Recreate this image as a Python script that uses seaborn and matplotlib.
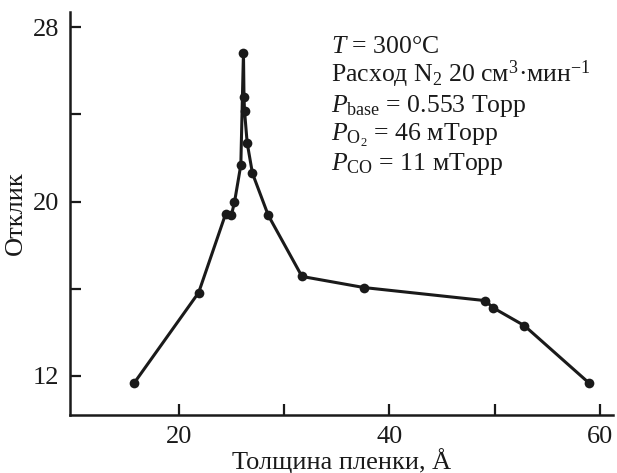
import numpy as np
import pandas as pd
import matplotlib
matplotlib.use("Agg")
import matplotlib.pyplot as plt
import seaborn as sns

# толщина пленки (Å) и отклик, в порядке соединения точек
thickness = [15.8, 21.9, 24.45, 25.0, 25.3, 25.9, 26.15, 26.2, 26.25, 26.5,
             27.0, 28.5, 31.7, 37.6, 37.6, 49.1, 49.8, 52.8, 58.9]
response = [11.68, 15.82, 19.42, 19.37, 19.97, 21.68, 26.84, 24.8, 24.17, 22.7,
            21.3, 19.37, 16.56, 15.9, 16.2, 15.45, 15.13, 14.3, 11.68]

x_ticks = [20, 40, 60]
x_minor = [30, 50]
y_ticks = [12, 20, 28]
y_minor = [16, 24]

conditions = [
    r"$T$ = 300°C",
    r"Расход N$_2$ 20 см$^3$·мин$^{-1}$",
    r"$P_{\mathrm{base}}$ = 0.553 Торр",
    r"$P_{\mathrm{O_2}}$ = 46 мТорр",
    r"$P_{\mathrm{CO}}$ = 11 мТорр",
]

sns.set_style("ticks")
plt.rcParams['font.family'] = ['Liberation Serif', 'DejaVu Serif']
plt.rcParams['mathtext.fontset'] = 'custom'
plt.rcParams['mathtext.rm'] = 'Liberation Serif'
plt.rcParams['mathtext.it'] = 'Liberation Serif:italic'
plt.rcParams['mathtext.bf'] = 'Liberation Serif:bold'

df = pd.DataFrame({'x': thickness, 'y': response})

fig = plt.figure(figsize=(6.17, 4.73), dpi=100)
ax = fig.add_axes([0.1135, 0.1226, 0.88, 0.852])

sns.lineplot(data=df, x='x', y='y', sort=False, color='#1a1a1a', linewidth=2.2,
             marker='o', markersize=7, markeredgewidth=0, ax=ax)

ax.set_xlim(9.7, 61.2)
ax.set_ylim(10.2, 28.7)
ax.set_xticks(x_ticks)
ax.set_xticks(x_minor, minor=True)
ax.set_yticks(y_ticks)
ax.set_yticks(y_minor, minor=True)

sns.despine(ax=ax)
for s in ['left', 'bottom']:
    ax.spines[s].set_linewidth(1.8)
    ax.spines[s].set_color('#1a1a1a')

ax.tick_params(which='both', direction='in', length=8, width=1.6, color='#1a1a1a',
               labelsize=19, labelcolor='#1a1a1a', pad=8)

ax.set_xlabel("Толщина пленки, Å", fontsize=19, color='#1a1a1a', labelpad=0)
ax.set_ylabel("Отклик", fontsize=19, color='#1a1a1a', labelpad=4)

y0 = 0.898
for i, line in enumerate(conditions):
    ax.text(0.48, y0 - i * 0.0725, line, transform=ax.transAxes, fontsize=18.5,
            color='#1a1a1a', ha='left', va='baseline')

fig.savefig("out.png", dpi=100)
